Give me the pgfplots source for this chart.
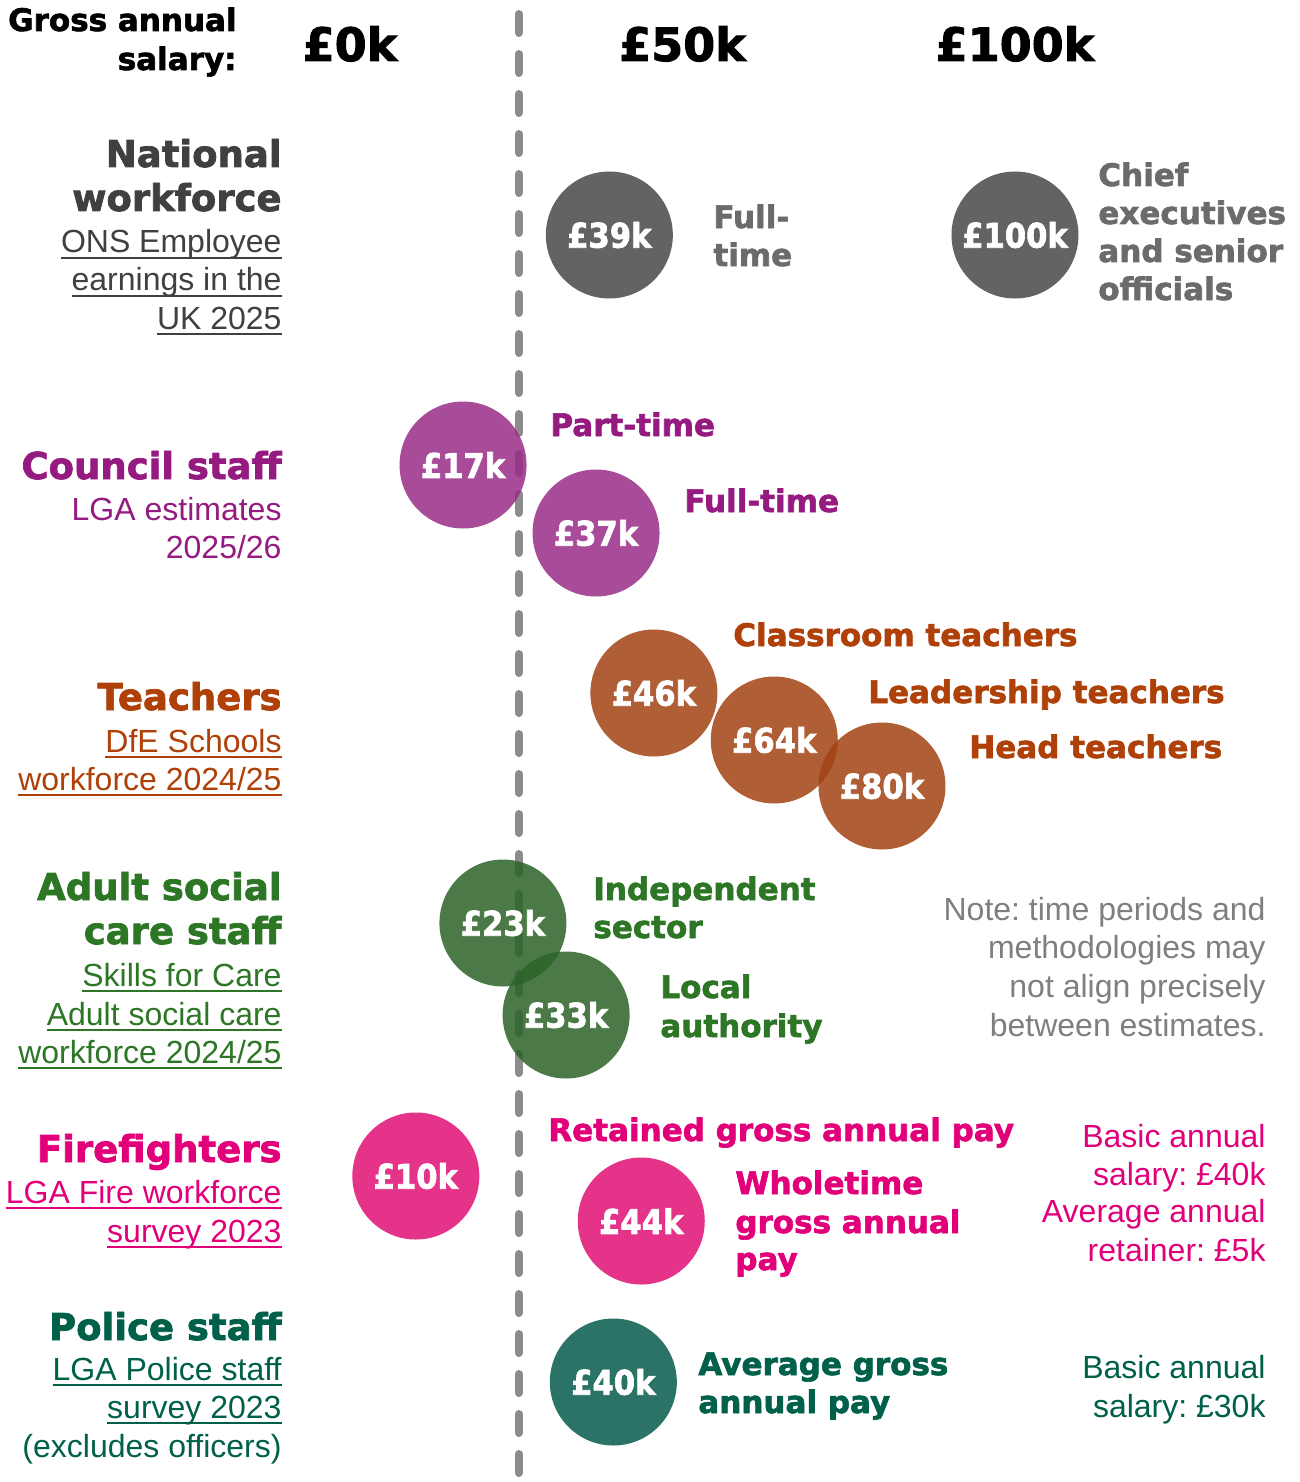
\documentclass[border=0pt]{standalone}
\usepackage{pgfplots}
\pgfplotsset{compat=1.18}
\usepackage{fontspec}
\setmainfont{Liberation Sans}
\newfontfamily\heavyfam{DejaVu Sans}[FakeBold=2]
\newfontfamily\bubfam{DejaVu Sans}[FakeStretch=0.9, FakeBold=2]
\frenchspacing

\definecolor{natgrey}{HTML}{404040}
\definecolor{lblgrey}{HTML}{6B6B6B}
\definecolor{notegrey}{HTML}{7F7F7F}
\definecolor{dashgrey}{HTML}{8C8C8C}
\definecolor{bgrey}{RGB}{72,72,72}
\definecolor{cpurple}{HTML}{951B81}
\definecolor{bpurple}{RGB}{153,43,134}
\definecolor{corange}{HTML}{AF4008}
\definecolor{borange}{RGB}{162,66,19}
\definecolor{cgreen}{HTML}{2D7626}
\definecolor{bgreen}{RGB}{43,99,40}
\definecolor{cpink}{HTML}{E2007A}
\definecolor{bpink}{RGB}{224,15,117}
\definecolor{cteal}{HTML}{00604A}
\definecolor{bteal}{RGB}{6,90,75}

\newsavebox\ulbox
\newcommand\ul[1]{\sbox\ulbox{#1}\rlap{\rule[-2.8pt]{\wd\ulbox}{1pt}}\usebox\ulbox}

\newcommand\hd{\heavyfam\bfseries\fontsize{18.5}{22}\selectfont}
\newcommand\lb{\heavyfam\bfseries\fontsize{15.5}{19}\selectfont}
\newcommand\tx{\fontsize{16}{19}\selectfont}
\newcommand\bb{\bubfam\bfseries\fontsize{17}{20}\selectfont}
\newcommand\topfont{\heavyfam\bfseries\fontsize{23}{26}\selectfont}

% x in thousand pounds, y in pixels from the top
\pgfplotsset{bubble/.style={only marks, mark=*, mark size=31.75pt,
    mark options={fill=#1, fill opacity=0.85, draw opacity=0},
    point meta=explicit symbolic, nodes near coords,
    every node near coord/.style={font=\bb, text=white, anchor=center,
      inner sep=0pt, fill opacity=1, text opacity=1}}}

\begin{document}
\begin{tikzpicture}[every node/.append style={inner sep=0pt}]
\begin{axis}[scale only axis, width=650pt, height=741pt,
  xmin=-52.63, xmax=142.86, ymin=0, ymax=1482, y dir=reverse,
  hide axis, clip=false]

% reference line
\addplot[dashgrey, line width=4pt, line cap=round, dash pattern=on 9.5pt off 10.5pt]
  coordinates {(25.4,14) (25.4,1482)};

% salary scale
\node[anchor=base east, font=\lb] at (axis cs:-16.99,31) {Gross annual};
\node[anchor=base east, font=\lb] at (axis cs:-16.99,70) {salary:};
\node[anchor=base, font=\topfont] at (axis cs:0,61) {£0k};
\node[anchor=base, font=\topfont] at (axis cs:50,61) {£50k};
\node[anchor=base, font=\topfont] at (axis cs:100,61) {£100k};

% National workforce
\node[anchor=base east, font=\hd, text=natgrey] at (axis cs:-10.23,167) {National};
\node[anchor=base east, font=\hd, text=natgrey] at (axis cs:-10.23,211) {workforce};
\node[anchor=base east, font=\tx, text=natgrey] at (axis cs:-10.23,253) {\ul{ONS Employee}};
\node[anchor=base east, font=\tx, text=natgrey] at (axis cs:-10.23,291) {\ul{earnings in the}};
\node[anchor=base east, font=\tx, text=natgrey] at (axis cs:-10.23,329) {\ul{UK 2025}};
\addplot[bubble=bgrey] coordinates {(39,235)[£39k] (100,235)[£100k]};
\node[anchor=base west, font=\lb, text=lblgrey] at (axis cs:54.59,228) {Full-};
\node[anchor=base west, font=\lb, text=lblgrey] at (axis cs:54.59,266) {time};
\node[anchor=base west, font=\lb, text=lblgrey] at (axis cs:112.48,186) {Chief};
\node[anchor=base west, font=\lb, text=lblgrey] at (axis cs:112.48,224) {executives};
\node[anchor=base west, font=\lb, text=lblgrey] at (axis cs:112.48,262) {and senior};
\node[anchor=base west, font=\lb, text=lblgrey] at (axis cs:112.48,300) {officials};

% Council staff
\node[anchor=base east, font=\hd, text=cpurple] at (axis cs:-10.23,479) {Council staff};
\node[anchor=base east, font=\tx, text=cpurple] at (axis cs:-10.23,520) {LGA estimates};
\node[anchor=base east, font=\tx, text=cpurple] at (axis cs:-10.23,558) {2025/26};
\addplot[bubble=bpurple] coordinates {(17,465)[£17k] (37,533)[£37k]};
\node[anchor=base west, font=\lb, text=cpurple] at (axis cs:30.08,436) {Part-time};
\node[anchor=base west, font=\lb, text=cpurple] at (axis cs:50.23,512) {Full-time};

% Teachers
\node[anchor=base east, font=\hd, text=corange] at (axis cs:-10.23,710) {Teachers};
\node[anchor=base east, font=\tx, text=corange] at (axis cs:-10.23,752) {\ul{DfE Schools}};
\node[anchor=base east, font=\tx, text=corange] at (axis cs:-10.23,790) {\ul{workforce 2024/25}};
\addplot[bubble=borange] coordinates {(45.7,693)[£46k] (63.8,740)[£64k] (80,786)[£80k]};
\node[anchor=base west, font=\lb, text=corange] at (axis cs:57.59,646) {Classroom teachers};
\node[anchor=base west, font=\lb, text=corange] at (axis cs:77.89,703) {Leadership teachers};
\node[anchor=base west, font=\lb, text=corange] at (axis cs:93.08,758) {Head teachers};

% Adult social care
\node[anchor=base east, font=\hd, text=cgreen] at (axis cs:-10.23,900) {Adult social};
\node[anchor=base east, font=\hd, text=cgreen] at (axis cs:-10.23,944) {care staff};
\node[anchor=base east, font=\tx, text=cgreen] at (axis cs:-10.23,986) {\ul{Skills for Care}};
\node[anchor=base east, font=\tx, text=cgreen] at (axis cs:-10.23,1025) {\ul{Adult social care}};
\node[anchor=base east, font=\tx, text=cgreen] at (axis cs:-10.23,1063) {\ul{workforce 2024/25}};
\addplot[bubble=bgreen] coordinates {(23,923)[£23k] (32.5,1015)[£33k]};
\node[anchor=base west, font=\lb, text=cgreen] at (axis cs:36.54,900) {Independent};
\node[anchor=base west, font=\lb, text=cgreen] at (axis cs:36.54,938) {sector};
\node[anchor=base west, font=\lb, text=cgreen] at (axis cs:46.62,998) {Local};
\node[anchor=base west, font=\lb, text=cgreen] at (axis cs:46.62,1037) {authority};
\node[anchor=base east, font=\tx, text=notegrey] at (axis cs:137.74,920) {Note: time periods and};
\node[anchor=base east, font=\tx, text=notegrey] at (axis cs:137.74,958) {methodologies may};
\node[anchor=base east, font=\tx, text=notegrey] at (axis cs:137.74,997) {not align precisely};
\node[anchor=base east, font=\tx, text=notegrey] at (axis cs:137.74,1036) {between estimates.};

% Firefighters
\node[anchor=base east, font=\hd, text=cpink] at (axis cs:-10.23,1162) {Firefighters};
\node[anchor=base east, font=\tx, text=cpink] at (axis cs:-10.23,1203) {\ul{LGA Fire workforce}};
\node[anchor=base east, font=\tx, text=cpink] at (axis cs:-10.23,1242) {\ul{survey 2023}};
\addplot[bubble=bpink] coordinates {(9.9,1176)[£10k] (43.8,1221)[£44k]};
\node[anchor=base west, font=\lb, text=cpink] at (axis cs:29.77,1141) {Retained gross annual pay};
\node[anchor=base west, font=\lb, text=cpink] at (axis cs:57.89,1194) {Wholetime};
\node[anchor=base west, font=\lb, text=cpink] at (axis cs:57.89,1233) {gross annual};
\node[anchor=base west, font=\lb, text=cpink] at (axis cs:57.89,1270) {pay};
\node[anchor=base east, font=\tx, text=cpink] at (axis cs:137.74,1147) {Basic annual};
\node[anchor=base east, font=\tx, text=cpink] at (axis cs:137.74,1185) {salary: £40k};
\node[anchor=base east, font=\tx, text=cpink] at (axis cs:137.74,1222) {Average annual};
\node[anchor=base east, font=\tx, text=cpink] at (axis cs:137.74,1261) {retainer: £5k};

% Police staff
\node[anchor=base east, font=\hd, text=cteal] at (axis cs:-10.23,1340) {Police staff};
\node[anchor=base east, font=\tx, text=cteal] at (axis cs:-10.23,1380) {\ul{LGA Police staff}};
\node[anchor=base east, font=\tx, text=cteal] at (axis cs:-10.23,1418) {\ul{survey 2023}};
\node[anchor=base east, font=\tx, text=cteal] at (axis cs:-10.23,1457) {(excludes officers)};
\addplot[bubble=bteal] coordinates {(39.6,1382)[£40k]};
\node[anchor=base west, font=\lb, text=cteal] at (axis cs:52.33,1375) {Average gross};
\node[anchor=base west, font=\lb, text=cteal] at (axis cs:52.33,1413) {annual pay};
\node[anchor=base east, font=\tx, text=cteal] at (axis cs:137.74,1378) {Basic annual};
\node[anchor=base east, font=\tx, text=cteal] at (axis cs:137.74,1417) {salary: £30k};

\coordinate (bl) at (rel axis cs:0,0);
\coordinate (tr) at (rel axis cs:1,1);
\end{axis}
\pgfresetboundingbox
\path (bl) rectangle (tr);
\end{tikzpicture}
\end{document}
